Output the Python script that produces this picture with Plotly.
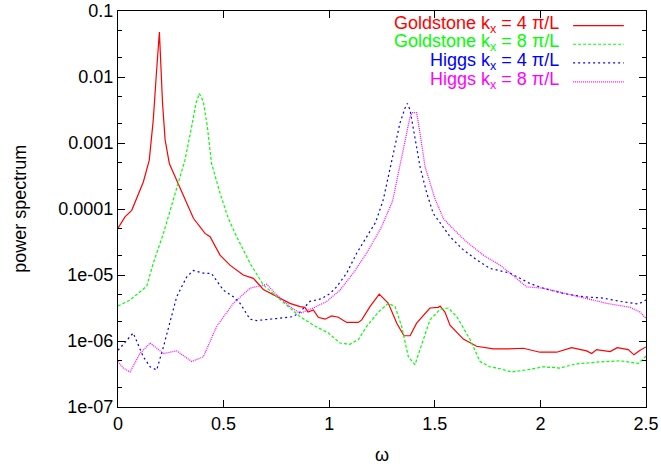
import plotly.graph_objects as go

# ---- data ----
w_gold4 = [0, 0.025, 0.033, 0.065, 0.08, 0.12, 0.148, 0.167, 0.183, 0.196, 0.211, 0.223, 0.243, 0.278, 0.317,
           0.357, 0.412, 0.436, 0.483, 0.530, 0.593, 0.641, 0.688, 0.751, 0.814, 0.862, 0.885, 0.90, 0.925, 0.948,
           0.980, 1.012, 1.043, 1.083, 1.138, 1.154, 1.193, 1.237, 1.280, 1.320, 1.354, 1.383, 1.414, 1.477, 1.517,
           1.525, 1.548, 1.572, 1.635, 1.698, 1.777, 1.850, 1.919, 1.998, 2.077, 2.148, 2.219, 2.243, 2.266, 2.33,
           2.364, 2.416, 2.443, 2.472, 2.50]
p_gold4 = [5.13e-5, 7.08e-5, 7.59e-5, 9.55e-5, 1.23e-4, 2.57e-4, 5.50e-4, 2.24e-3, 1.29e-2, 4.79e-2, 3.98e-3,
           1.12e-3, 4.90e-4, 2.75e-4, 1.38e-4, 7.24e-5, 4.27e-5, 3.80e-5, 2.00e-5, 1.41e-5, 1.00e-5, 8.91e-6,
           6.03e-6, 4.68e-6, 3.72e-6, 3.31e-6, 3.24e-6, 2.75e-6, 2.95e-6, 2.29e-6, 2.14e-6, 2.40e-6, 2.29e-6,
           1.91e-6, 1.91e-6, 2.09e-6, 3.31e-6, 5.13e-6, 3.72e-6, 1.86e-6, 1.20e-6, 1.20e-6, 1.86e-6, 3.16e-6,
           3.24e-6, 3.39e-6, 2.75e-6, 1.74e-6, 1.07e-6, 8.32e-7, 7.59e-7, 7.59e-7, 7.76e-7, 6.76e-7, 6.76e-7,
           7.94e-7, 7.08e-7, 6.46e-7, 7.41e-7, 6.92e-7, 7.94e-7, 7.41e-7, 6.17e-7, 7.24e-7, 8.13e-7]

w_gold8 = [0, 0.057, 0.136, 0.167, 0.215, 0.254, 0.278, 0.317, 0.349, 0.369, 0.385, 0.404, 0.423, 0.443, 0.483,
           0.522, 0.562, 0.625, 0.688, 0.751, 0.814, 0.862, 0.925, 0.996, 1.051, 1.098, 1.138, 1.177, 1.233, 1.280,
           1.312, 1.343, 1.375, 1.406, 1.438, 1.477, 1.525, 1.564, 1.604, 1.667, 1.714, 1.761, 1.809, 1.864, 1.951,
           2.014, 2.093, 2.164, 2.266, 2.377, 2.464, 2.5]
p_gold8 = [3.39e-6, 4.17e-6, 6.76e-6, 1.51e-5, 4.27e-5, 1.15e-4, 2.19e-4, 5.50e-4, 1.78e-3, 3.98e-3, 5.62e-3,
           4.27e-3, 1.78e-3, 4.90e-4, 1.74e-4, 7.24e-5, 3.80e-5, 1.51e-5, 7.08e-6, 4.68e-6, 3.16e-6, 2.34e-6,
           1.74e-6, 1.32e-6, 9.33e-7, 8.91e-7, 1.05e-6, 1.66e-6, 2.75e-6, 3.72e-6, 3.31e-6, 1.66e-6, 5.75e-7,
           4.37e-7, 9.12e-7, 2.09e-6, 3.02e-6, 3.16e-6, 2.34e-6, 1.05e-6, 4.90e-7, 4.07e-7, 3.80e-7, 3.39e-7,
           3.72e-7, 4.07e-7, 3.89e-7, 4.47e-7, 4.79e-7, 5.01e-7, 4.57e-7, 5.89e-7]

w_higgs4 = [0, 0.072, 0.12, 0.152, 0.183, 0.215, 0.278, 0.325, 0.357, 0.404, 0.443, 0.499, 0.546, 0.578, 0.625,
            0.657, 0.751, 0.830, 0.862, 0.909, 0.964, 1.004, 1.035, 1.083, 1.130, 1.177, 1.22, 1.256, 1.280, 1.312,
            1.335, 1.359, 1.370, 1.383, 1.406, 1.430, 1.462, 1.493, 1.53, 1.572, 1.635, 1.698, 1.761, 1.809, 1.856,
            1.951, 2.014, 2.109, 2.203, 2.298, 2.377, 2.464, 2.5]
p_higgs4 = [7.24e-7, 1.32e-6, 5.75e-7, 4.07e-7, 3.63e-7, 8.13e-7, 4.68e-6, 9.33e-6, 1.17e-5, 1.07e-5, 1.05e-5,
            5.89e-6, 4.68e-6, 3.72e-6, 2.14e-6, 2.04e-6, 2.19e-6, 2.34e-6, 2.75e-6, 3.98e-6, 4.37e-6, 5.25e-6,
            6.61e-6, 1.07e-5, 2.14e-5, 3.80e-5, 6.31e-5, 1.38e-4, 3.09e-4, 8.71e-4, 2.00e-3, 3.39e-3, 3.98e-3,
            3.16e-3, 1.26e-3, 4.37e-4, 1.74e-4, 8.51e-5, 5.89e-5, 3.80e-5, 2.40e-5, 1.70e-5, 1.26e-5, 1.17e-5,
            1.07e-5, 7.41e-6, 6.31e-6, 5.25e-6, 4.68e-6, 4.47e-6, 3.98e-6, 3.63e-6, 4.17e-6]

w_higgs8 = [0, 0.025, 0.057, 0.104, 0.152, 0.215, 0.278, 0.349, 0.404, 0.467, 0.546, 0.625, 0.704, 0.751, 0.814,
            0.862, 0.925, 0.988, 1.051, 1.114, 1.177, 1.248, 1.30, 1.327, 1.359, 1.383, 1.395, 1.414, 1.430, 1.454,
            1.50, 1.54, 1.58, 1.651, 1.730, 1.809, 1.856, 1.935, 2.014, 2.109, 2.203, 2.314, 2.424, 2.472, 2.5]
p_higgs8 = [4.90e-7, 3.89e-7, 3.39e-7, 6.46e-7, 9.33e-7, 6.46e-7, 7.08e-7, 4.90e-7, 5.75e-7, 1.66e-6, 3.72e-6,
            6.31e-6, 7.24e-6, 5.01e-6, 3.31e-6, 2.63e-6, 3.16e-6, 3.98e-6, 5.89e-6, 1.07e-5, 2.14e-5, 5.37e-5,
            1.32e-4, 3.47e-4, 1.12e-3, 2.51e-3, 2.88e-3, 2.88e-3, 1.41e-3, 4.37e-4, 1.45e-4, 7.24e-5, 5.25e-5,
            3.16e-5, 2.00e-5, 1.41e-5, 1.07e-5, 6.61e-6, 6.31e-6, 5.37e-6, 4.47e-6, 3.72e-6, 3.24e-6, 2.75e-6,
            2.19e-6]

series_names = ["Goldstone k<sub>x</sub> = 4 \u03c0/L", "Goldstone k<sub>x</sub> = 8 \u03c0/L",
                "Higgs k<sub>x</sub> = 4 \u03c0/L", "Higgs k<sub>x</sub> = 8 \u03c0/L"]
series_colors = ["#ff0000", "#00ff00", "#0000ff", "#ff00ff"]
series_dash = ["solid", "3px,2px", "2px,3px", "1px,1px"]

x_tickvals = [0, 0.5, 1, 1.5, 2, 2.5]
x_ticktext = ["0", "0.5", "1", "1.5", "2", "2.5"]
y_tickvals = [1e-1, 1e-2, 1e-3, 1e-4, 1e-5, 1e-6, 1e-7]
y_ticktext = ["0.1", "0.01", "0.001", "0.0001", "1e-05", "1e-06", "1e-07"]
y_minor = [m * 10.0 ** e for e in range(-7, -1) for m in (2, 5)]

FONT = "Liberation Sans, Arial, Helvetica, sans-serif"
FS = 18

fig = go.Figure()
data = [(w_gold4, p_gold4), (w_gold8, p_gold8), (w_higgs4, p_higgs4), (w_higgs8, p_higgs8)]
for (wx, py), name, col, dash in zip(data, series_names, series_colors, series_dash):
    fig.add_trace(go.Scatter(x=wx, y=py, mode="lines", name=name, showlegend=False,
                             line=dict(color=col, width=1.2, dash=dash)))

# gnuplot-style key: right-aligned text followed by a sample line
key_y = [0.963, 0.916, 0.869, 0.821]
for name, col, dash, ky in zip(series_names, series_colors, series_dash, key_y):
    fig.add_annotation(xref="paper", yref="paper", x=0.839, y=ky + 0.004, text=name, showarrow=False,
                       xanchor="right", yanchor="middle", font=dict(family=FONT, size=FS, color=col))
    fig.add_shape(type="line", xref="paper", yref="paper", x0=0.862, x1=0.958, y0=ky, y1=ky,
                  line=dict(color=col, width=1.2, dash=dash))

# y-axis title placed like gnuplot's ylabel
fig.add_annotation(xref="paper", yref="paper", x=-0.186, y=0.5, text="power spectrum", textangle=-90,
                   showarrow=False, xanchor="center", yanchor="middle", font=dict(family=FONT, size=FS))

fig.update_layout(
    width=661, height=470,
    margin=dict(l=118, r=15, t=11, b=63),
    paper_bgcolor="white", plot_bgcolor="white",
    font=dict(family=FONT, size=FS, color="black"),
)
fig.update_xaxes(range=[0, 2.5], tickvals=x_tickvals, ticktext=x_ticktext, ticks="inside", ticklen=7,
                 tickcolor="black", showgrid=False, zeroline=False, showline=True, linecolor="black",
                 linewidth=1, mirror="ticks", tickfont=dict(size=FS), automargin=False,
                 title=dict(text="\u03c9", font=dict(size=FS)))
fig.update_yaxes(type="log", range=[-7, -1], tickvals=y_tickvals, ticktext=y_ticktext, ticks="inside",
                 ticklen=7, tickcolor="black", showgrid=False, zeroline=False, showline=True,
                 linecolor="black", linewidth=1, mirror="ticks", tickfont=dict(size=FS), automargin=False,
                 minor=dict(tickvals=y_minor, ticks="inside", ticklen=4, tickcolor="black", showgrid=False))

fig.write_html("out.html", config={"displayModeBar": False},
               post_script="document.body.style.margin='0';")
